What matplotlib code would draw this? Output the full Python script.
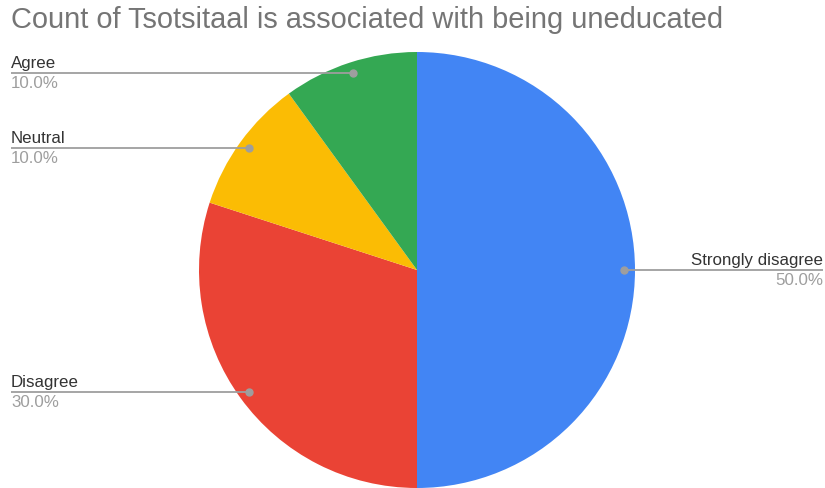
import numpy as np
import matplotlib.pyplot as plt

# data
categories = ["Strongly disagree", "Disagree", "Neutral", "Agree"]
counts = [5, 3, 1, 1]
colors = ["#4285F4", "#EA4335", "#FBBC04", "#34A853"]
title = "Count of Tsotsitaal is associated with being uneducated"

W, H = 825, 489
fig = plt.figure(figsize=(W / 100, H / 100), dpi=100)
ax = fig.add_axes([0, 0, 1, 1])

cx, cy, r = 417, H - 271, 218
wedges, _ = ax.pie(counts, colors=colors, startangle=90, counterclock=False,
                   center=(cx, cy), radius=r, frame=True,
                   wedgeprops=dict(linewidth=0))
ax.set_xlim(0, W)
ax.set_ylim(0, H)
ax.set_aspect("equal")
ax.axis("off")

total = sum(counts)
line_col = "#9e9e9e"
font = "Liberation Sans"
for w, name, n in zip(wedges, categories, counts):
    ang = np.deg2rad((w.theta1 + w.theta2) / 2)
    dx = cx + 0.95 * r * np.cos(ang)
    dy = cy + 0.95 * r * np.sin(ang)
    if np.cos(ang) > 0.01:
        x_end, ha = W - 2, "right"
    else:
        x_end, ha = 11, "left"
    ax.plot([dx, x_end], [dy, dy], color=line_col, lw=1.3, solid_capstyle="butt", zorder=3)
    ax.plot(dx, dy, "o", color=line_col, ms=5, zorder=4)
    ax.text(x_end, dy + 3, name, ha=ha, va="bottom", fontsize=12.2,
            family=font, color="#333333")
    ax.text(x_end, dy - 2, f"{100 * n / total:.1f}%", ha=ha, va="top",
            fontsize=12.2, family=font, color="#9e9e9e")

fig.text(11 / W, 1 - 20 / H, title, ha="left", va="center", fontsize=20.9,
         family=font, color="#757575")

fig.savefig("out.png", dpi=100, facecolor="white")
